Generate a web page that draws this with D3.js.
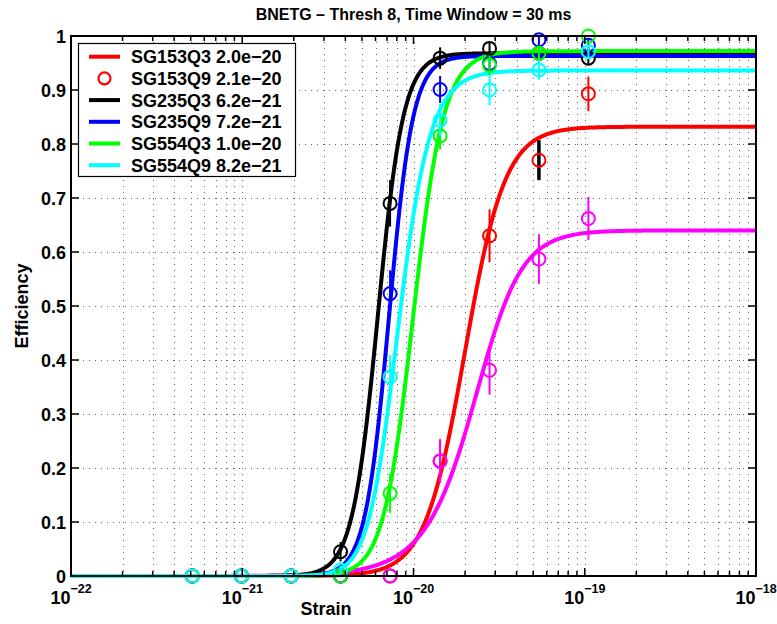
<!DOCTYPE html>
<html lang="en">
<head>
<meta charset="utf-8">
<script src="https://d3js.org/d3.v7.min.js"></script>
<style>
  body { margin: 0; background: #fff; }
  text { font-family: "Liberation Sans", Arial, Helvetica, sans-serif; font-weight: bold; }
</style>
</head>
<body>
<div id="chart"></div>
<script>
// strain values where injections were done
var strainPts = [5.1e-22, 9.9e-22, 1.93e-21, 3.75e-21, 7.3e-21, 1.43e-20, 2.78e-20, 5.4e-20, 1.05e-19];

// fitted curves
var curveNames  = ["SG153Q3", "SG153Q9", "SG235Q3", "SG235Q9", "SG554Q3", "SG554Q9"];
var curveColors = ["#ff0000", "#ff00ff", "#000000", "#0000ff", "#00ff00", "#00ffff"];
var h50    = [2.0e-20, 2.25e-20, 6.2e-21, 7.2e-21, 1.0e-20, 8.2e-21];
var effMax = [0.832, 0.640, 0.968, 0.963, 0.972, 0.936];
var alpha  = [-3.7, -2.4, -5.8, -6.2, -5.4, -6.2];
var beta   = [0, 0.35, 0, 0, -0.12, -0.3];

// measured efficiencies + error bars
var effRed     = [0, 0, 0, 0, 0, 0.213, 0.63, 0.77, 0.893];
var errRed     = [0, 0, 0, 0, 0, 0.04, 0.049, 0.037, 0.032];
var effMagenta = [0, 0, 0, 0, 0, 0.213, 0.381, 0.587, 0.662];
var errMagenta = [0, 0, 0, 0, 0, 0.04, 0.045, 0.046, 0.04];
var effBlack   = [0, 0, 0, 0.045, 0.69, 0.959, 0.977, 0.968, 0.959];
var errBlack   = [0, 0, 0, 0.018, 0.043, 0.02, 0.01, 0.01, 0.012];
var effBlue    = [0, 0, 0, 0, 0.523, 0.901, 0.949, 0.993, 0.983];
var errBlue    = [0, 0, 0, 0, 0.043, 0.025, 0.015, 0.01, 0.01];
var effGreen   = [0, 0, 0, 0, 0.153, 0.815, 0.946, 0.968, 1.0];
var errGreen   = [0, 0, 0, 0, 0.036, 0.025, 0.018, 0.012, 0];
var effCyan    = [0, 0, 0, 0.011, 0.369, 0.844, 0.9, 0.937, 0.971];
var errCyan    = [0, 0, 0, 0.008, 0.04, 0.03, 0.028, 0.018, 0.012];
// error bar colour of the red points (one of them is drawn black)
var barRed     = ["#ff0000", "#ff0000", "#ff0000", "#ff0000", "#ff0000", "#ff0000", "#ff0000", "#000000", "#ff0000"];

var legendLabels = ["SG153Q3 2.0e\u221220", "SG153Q9 2.1e\u221220", "SG235Q3 6.2e\u221221",
                    "SG235Q9 7.2e\u221221", "SG554Q3 1.0e\u221220", "SG554Q9 8.2e\u221221"];
var legendColors = ["#ff0000", "#ff0000", "#000000", "#0000ff", "#00ff00", "#00ffff"];
var legendKinds  = ["line", "circle", "line", "line", "line", "line"];

var yTicks = [0, 0.1, 0.2, 0.3, 0.4, 0.5, 0.6, 0.7, 0.8, 0.9, 1];
var xDecades = [-22, -21, -20, -19, -18];

var width = 777, height = 624;
var mLeft = 71, mRight = 756, mTop = 36, mBottom = 576;

var svg = d3.select("#chart").append("svg")
    .attr("width", width)
    .attr("height", height);

var x = d3.scaleLog().domain([1e-22, 1e-18]).range([mLeft, mRight]);
var y = d3.scaleLinear().domain([0, 1]).range([mBottom, mTop]);

// minor + major log ticks
var xAll = [];
for (var d = -22; d < -18; d++) {
    for (var m = 1; m < 10; m++) xAll.push(m * Math.pow(10, d));
}
xAll.push(1e-18);

// dotted grid
var grid = svg.append("g");
grid.selectAll(".gx").data(xAll.filter(function(v) { return v > 1.01e-22 && v < 0.99e-18; }))
    .enter().append("line")
    .attr("x1", function(v) { return Math.round(x(v)) + 0.5; })
    .attr("x2", function(v) { return Math.round(x(v)) + 0.5; })
    .attr("y1", mTop).attr("y2", mBottom)
    .attr("stroke", "#666").attr("stroke-width", 1).attr("stroke-dasharray", "1,5");
grid.selectAll(".gy").data(yTicks.filter(function(v) { return v > 0 && v < 1; }))
    .enter().append("line")
    .attr("y1", function(v) { return Math.round(y(v)) + 0.5; })
    .attr("y2", function(v) { return Math.round(y(v)) + 0.5; })
    .attr("x1", mLeft).attr("x2", mRight)
    .attr("stroke", "#666").attr("stroke-width", 1).attr("stroke-dasharray", "1,5");

// fit curves
function eff(i, h) {
    var r = h / h50[i];
    var e = alpha[i] * (1 + beta[i] * Math.tanh(r));
    return effMax[i] / (1 + Math.pow(r, e));
}
var hs = d3.range(0, 401).map(function(k) { return Math.pow(10, -22 + k / 100); });
var line = d3.line().x(function(p) { return x(p[0]); }).y(function(p) { return y(p[1]); });

var curves = svg.append("g");
curveNames.forEach(function(name, i) {
    curves.append("path")
        .datum(hs.map(function(h) { return [h, eff(i, h)]; }))
        .attr("d", line)
        .attr("fill", "none")
        .attr("stroke", curveColors[i])
        .attr("stroke-width", 4)
        .attr("stroke-linejoin", "round");
});

// data points with error bars
var series = [
    { eff: effRed, err: errRed, color: "#ff0000", bars: barRed },
    { eff: effMagenta, err: errMagenta, color: "#ff00ff" },
    { eff: effBlack, err: errBlack, color: "#000000" },
    { eff: effBlue, err: errBlue, color: "#0000ff" },
    { eff: effGreen, err: errGreen, color: "#00ff00" },
    { eff: effCyan, err: errCyan, color: "#00ffff" }
];
var pts = svg.append("g");
series.forEach(function(s) {
    var g = pts.append("g");
    g.selectAll("line").data(strainPts).enter().append("line")
        .attr("x1", function(h) { return x(h); })
        .attr("x2", function(h) { return x(h); })
        .attr("y1", function(h, k) { return y(Math.min(1, s.eff[k] + s.err[k])); })
        .attr("y2", function(h, k) { return y(Math.max(0, s.eff[k] - s.err[k])); })
        .attr("stroke", function(h, k) { return s.bars ? s.bars[k] : s.color; })
        .attr("stroke-width", function(h, k) { return s.bars && s.bars[k] != s.color ? 3.5 : 2; });
    g.selectAll("circle").data(strainPts).enter().append("circle")
        .attr("cx", function(h) { return x(h); })
        .attr("cy", function(h, k) { return y(s.eff[k]); })
        .attr("r", 6.5)
        .attr("fill", "none")
        .attr("stroke", s.color)
        .attr("stroke-width", 2);
});

// axes box with inward ticks
var ax = svg.append("g");
ax.selectAll(".tb").data(xAll).enter().append("line")
    .attr("x1", function(v) { return x(v); }).attr("x2", function(v) { return x(v); })
    .attr("y1", mBottom)
    .attr("y2", function(v, k) { return mBottom - (k % 9 == 0 ? 8 : 5); })
    .attr("stroke", "#000").attr("stroke-width", 1.5);
ax.selectAll(".tt").data(xAll).enter().append("line")
    .attr("x1", function(v) { return x(v); }).attr("x2", function(v) { return x(v); })
    .attr("y1", mTop)
    .attr("y2", function(v, k) { return mTop + (k % 9 == 0 ? 8 : 5); })
    .attr("stroke", "#000").attr("stroke-width", 1.5);
ax.selectAll(".tl").data(yTicks).enter().append("line")
    .attr("y1", function(v) { return y(v); }).attr("y2", function(v) { return y(v); })
    .attr("x1", mLeft).attr("x2", mLeft + 8)
    .attr("stroke", "#000").attr("stroke-width", 1.5);
ax.selectAll(".tr").data(yTicks).enter().append("line")
    .attr("y1", function(v) { return y(v); }).attr("y2", function(v) { return y(v); })
    .attr("x1", mRight).attr("x2", mRight - 8)
    .attr("stroke", "#000").attr("stroke-width", 1.5);
ax.append("rect")
    .attr("x", mLeft).attr("y", mTop)
    .attr("width", mRight - mLeft).attr("height", mBottom - mTop)
    .attr("fill", "none").attr("stroke", "#000").attr("stroke-width", 2);

// tick labels
ax.selectAll(".yl").data(yTicks).enter().append("text")
    .attr("x", mLeft - 5)
    .attr("y", function(v) { return y(v) + 6.5; })
    .attr("text-anchor", "end")
    .attr("font-size", 18)
    .text(function(v) { return d3.format("")(v); });

var xl = ax.selectAll(".xl").data(xDecades).enter().append("text")
    .attr("x", function(p) { return x(Math.pow(10, p)); })
    .attr("y", 604)
    .attr("text-anchor", "middle")
    .attr("font-size", 18);
xl.append("tspan").text("10");
xl.append("tspan").attr("dy", -11).attr("font-size", 12.5)
    .text(function(p) { return "\u2212" + Math.abs(p); });

// titles
svg.append("text").attr("x", (mLeft + mRight) / 2).attr("y", 20)
    .attr("text-anchor", "middle").attr("font-size", 16)
    .text("BNETG \u2013 Thresh 8, Time Window = 30 ms");
svg.append("text").attr("x", 326).attr("y", 615)
    .attr("text-anchor", "middle").attr("font-size", 18)
    .text("Strain");
svg.append("text")
    .attr("transform", "translate(28," + (mTop + mBottom) / 2 + ") rotate(-90)")
    .attr("text-anchor", "middle").attr("font-size", 18)
    .text("Efficiency");

// legend
var lg = svg.append("g");
lg.append("rect")
    .attr("x", 78.5).attr("y", 43.5).attr("width", 217).attr("height", 133)
    .attr("fill", "#fff").attr("stroke", "#000").attr("stroke-width", 1.2);
legendLabels.forEach(function(lab, i) {
    var cy = 56.7 + i * 21.7;
    if (legendKinds[i] == "line") {
        lg.append("line").attr("x1", 89).attr("x2", 120).attr("y1", cy).attr("y2", cy)
            .attr("stroke", legendColors[i]).attr("stroke-width", 4);
    } else {
        lg.append("circle").attr("cx", 104.5).attr("cy", cy).attr("r", 6)
            .attr("fill", "none").attr("stroke", legendColors[i]).attr("stroke-width", 2.2);
    }
    lg.append("text").attr("x", 131).attr("y", cy + 6.5)
        .attr("font-size", 18).text(lab);
});
</script>
</body>
</html>
